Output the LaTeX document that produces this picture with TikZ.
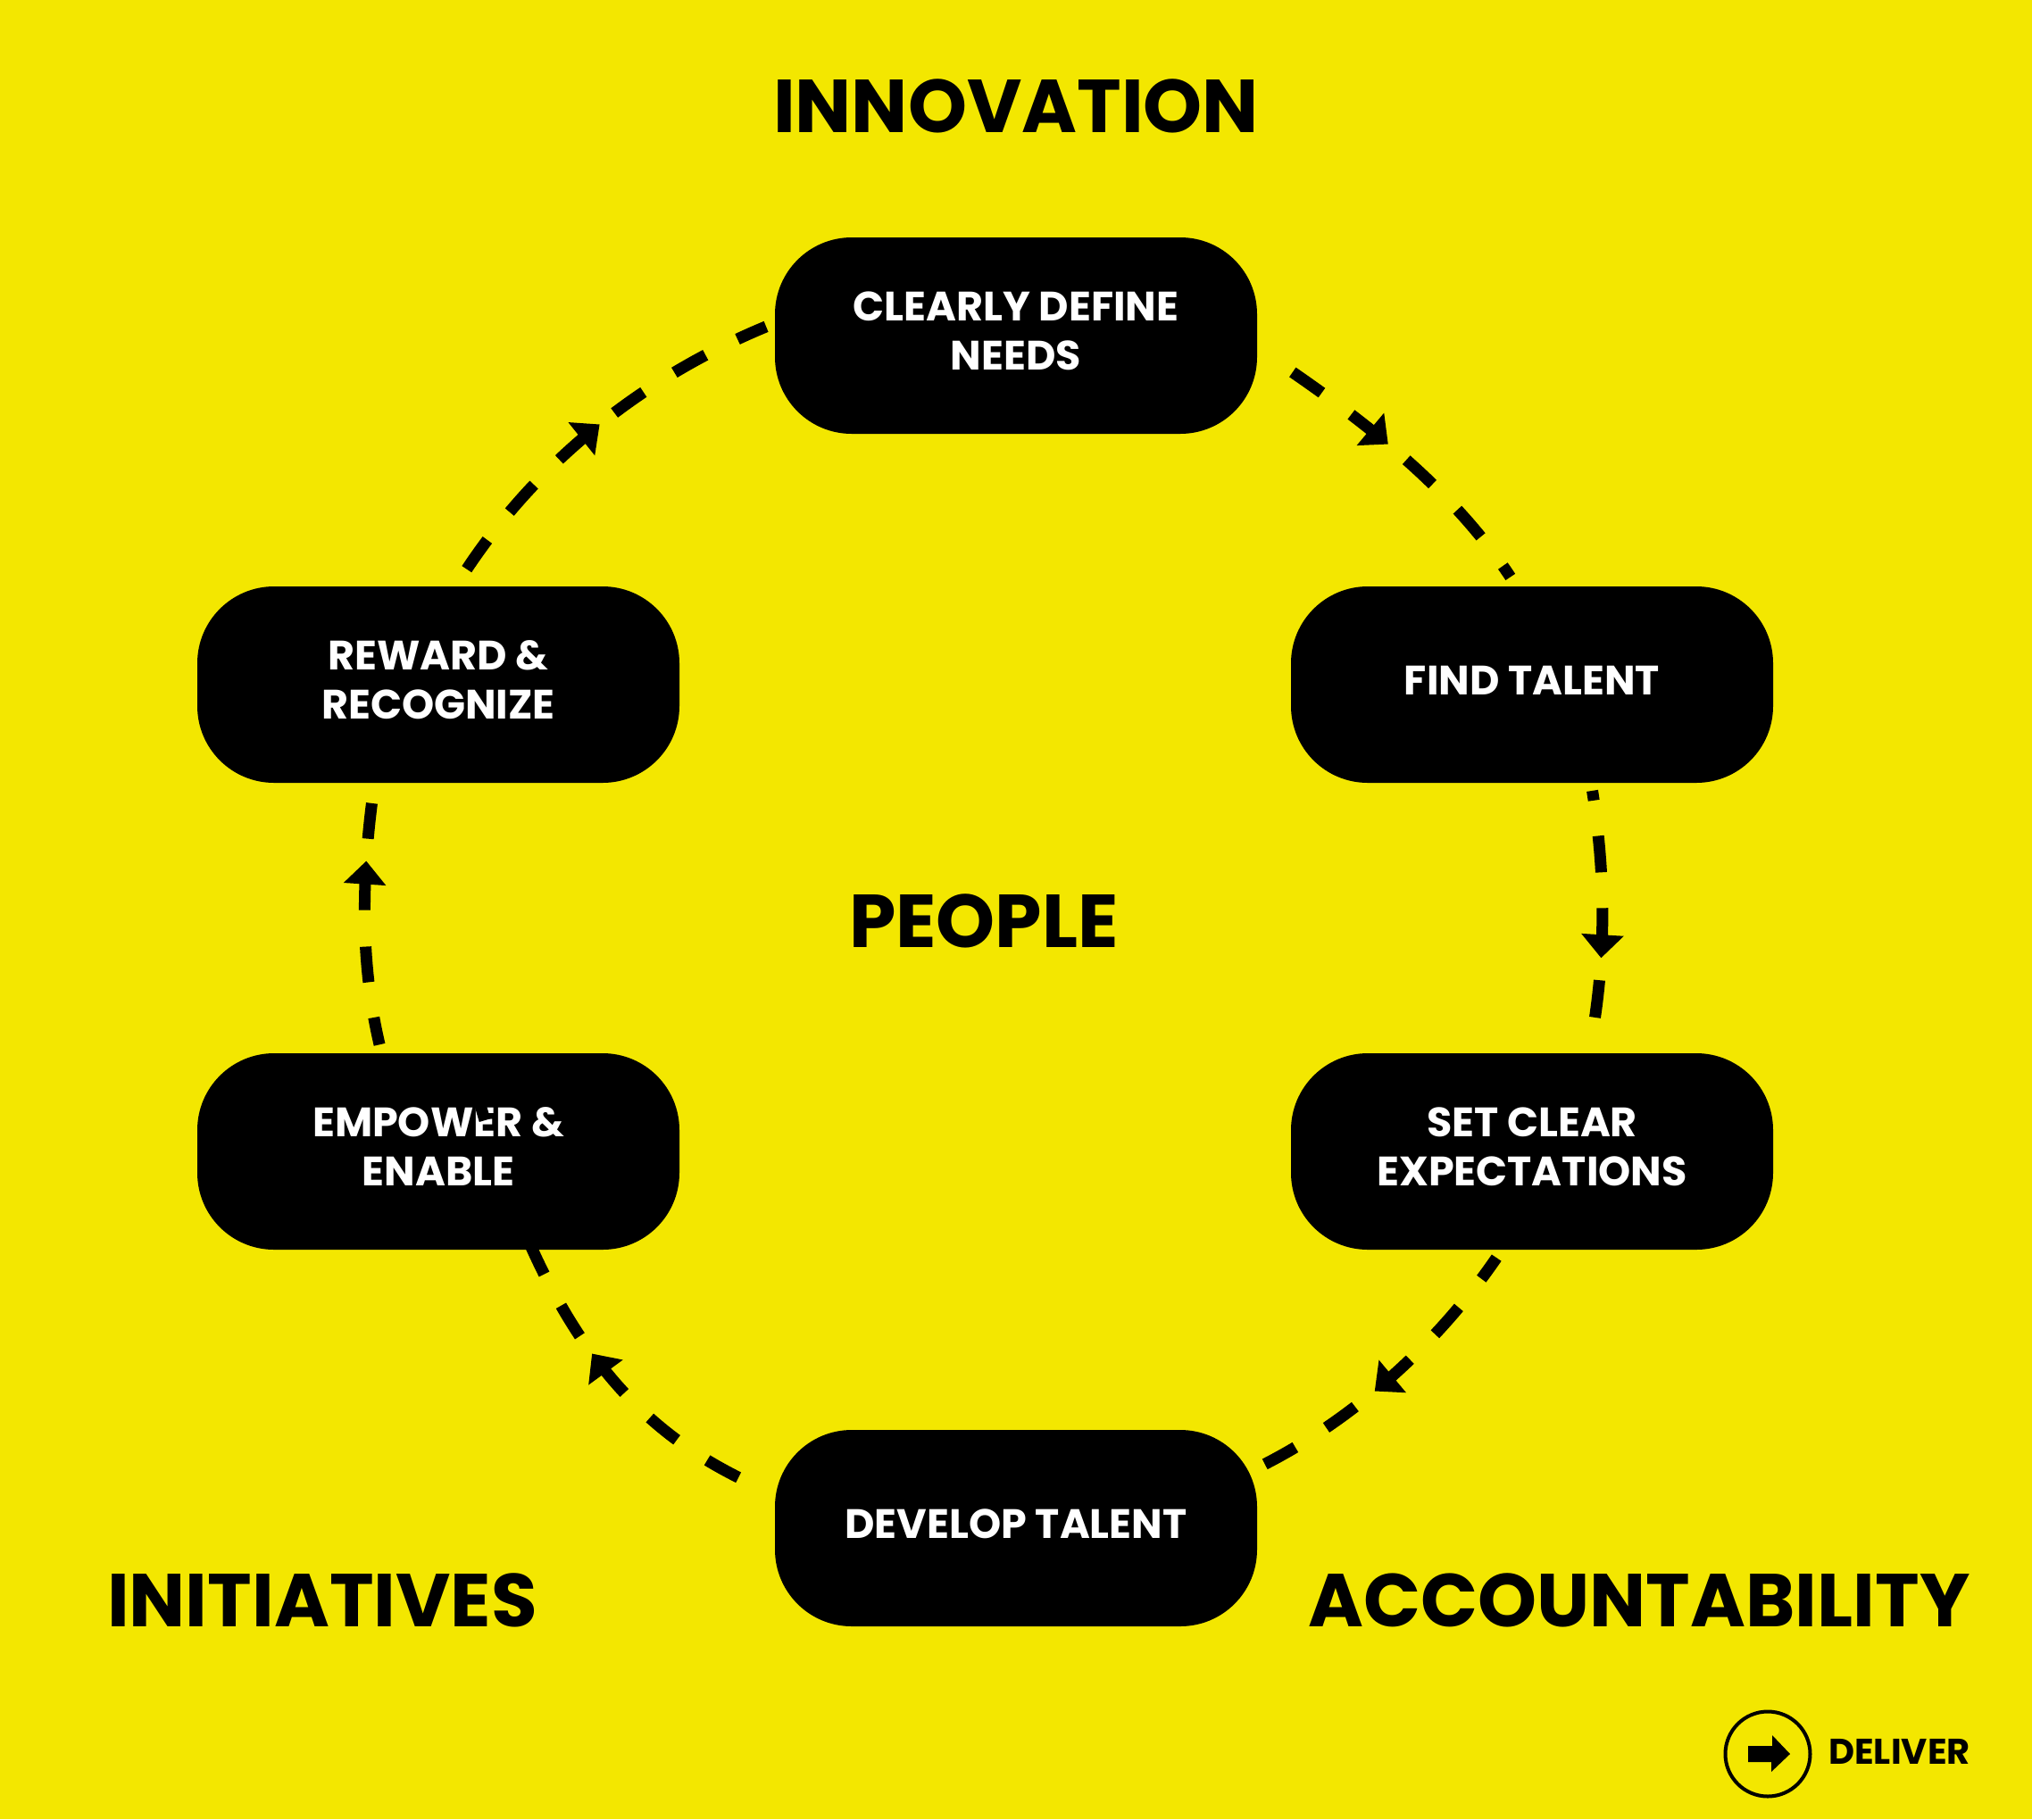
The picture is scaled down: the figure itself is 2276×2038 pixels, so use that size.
\documentclass[tikz,border=0pt]{standalone}
\usepackage{fontspec}
\setmainfont{Poppins}
\newfontfamily\boxfont{Poppins}[BoldFeatures={FakeStretch=1.0}]
\usetikzlibrary{arrows.meta,decorations.markings}
\definecolor{bgyellow}{HTML}{F3E700}
\newcommand\lift[2]{\raisebox{#1}{\begin{tabular}{@{}c@{}}#2\end{tabular}}}
\tikzset{
  pill/.style={rectangle,fill=black,text=white,rounded corners=86pt,minimum width=540pt,minimum height=220pt,inner sep=0pt,outer sep=0pt,font=\fontsize{46}{55}\selectfont\bfseries},
  title/.style={inner sep=0pt,font=\fontsize{84}{90}\selectfont\bfseries},
  flow/.style 2 args={draw=black,line width=13pt,dash pattern=#1,
    decoration={markings,mark=at position #2 with {\arrow{Triangle[length=26pt,width=46pt]}}},postaction={decorate}}
}
\begin{document}
\begin{tikzpicture}[x=1pt,y=-1pt]
\useasboundingbox (0,0) rectangle (2276,2038);
\fill[bgyellow] (0,0) rectangle (2276,2038);
\node[title] (innov) at (1138,119) {INNOVATION};
\node[title] (people) at (1102,1032) {PEOPLE};
\node[title] (initi) at (361,1793) {INITIATIVES};
\node[title] (acct) at (1836,1793) {ACCOUNTABILITY};
\node[pill] (top) at (1138,376) {\lift{6pt}{CLEARLY DEFINE\\NEEDS}};
\node[pill] (find) at (1716,767) {\lift{7pt}{FIND TALENT}};
\node[pill] (setc) at (1716,1290) {\lift{8pt}{SET CLEAR\\EXPECTATIONS}};
\node[pill] (dev) at (1138,1712) {\lift{0pt}{DEVELOP TALENT}};
\node[pill] (emp) at (491,1290) {\lift{3pt}{EMPOWER \&\\ENABLE}};
\node[pill] (rew) at (491,767) {\lift{2pt}{REWARD \&\\RECOGNIZE}};
\draw[flow={on 0pt off 48pt on 40pt off 41pt on 33pt off 47pt on 40pt off 40pt on 40pt off 41pt on 15pt off 100pt}{182pt}]
  (top.-3.2) .. controls (1518,463) and (1629,546) .. (find.99.3);
\draw[flow={on 0pt off 9pt on 11pt off 40pt on 41pt off 40pt on 36pt off 45pt on 42pt off 100pt}{197pt}]
  (find.-59.04) .. controls (1799,978) and (1800,1078) .. (setc.60.2);
\draw[flow={on 0pt off 11pt on 29pt off 41pt on 40pt off 40pt on 33pt off 48pt on 40pt off 41pt on 39pt off 100pt}{214pt}]
  (setc.-107.65) .. controls (1616,1500) and (1519,1590) .. (dev.14.7);
\draw[flow={on 0pt off 45pt on 40pt off 41pt on 39pt off 40pt on 37pt off 44pt on 40pt off 40pt on 40pt off 100pt}{262pt}]
  (dev.172) .. controls (736,1618) and (609,1527) .. (emp.74.74);
\draw[flow={on 0pt off 10pt on 31pt off 40pt on 40pt off 41pt on 35pt off 45pt on 40pt off 100pt}{217pt}]
  (emp.120.2) .. controls (402,1080) and (405,978) .. (rew.237.4);
\draw[flow={on 0pt off 23pt on 40pt off 40pt on 41pt off 40pt on 40pt off 41pt on 40pt off 41pt on 40pt off 40pt on 35pt off 100pt}{244pt}]
  (rew.80.7) .. controls (595,520) and (722,420) .. (top.177.45);
\node[circle,draw=black,line width=4pt,minimum size=95pt,inner sep=0pt] (icon) at (1980,1965) {};
\fill[black] (icon.center) ++(-22,-9) -- ++(27,0) -- ++(0,-12) -- (2005,1965) -- (1984,1985) -- (1984,1974) -- (1958,1974) -- cycle;
\node[inner sep=0pt,anchor=west,font=\fontsize{40}{44}\selectfont\bfseries] (deliver) at (2048,1962) {DELIVER};
\end{tikzpicture}
\end{document}
